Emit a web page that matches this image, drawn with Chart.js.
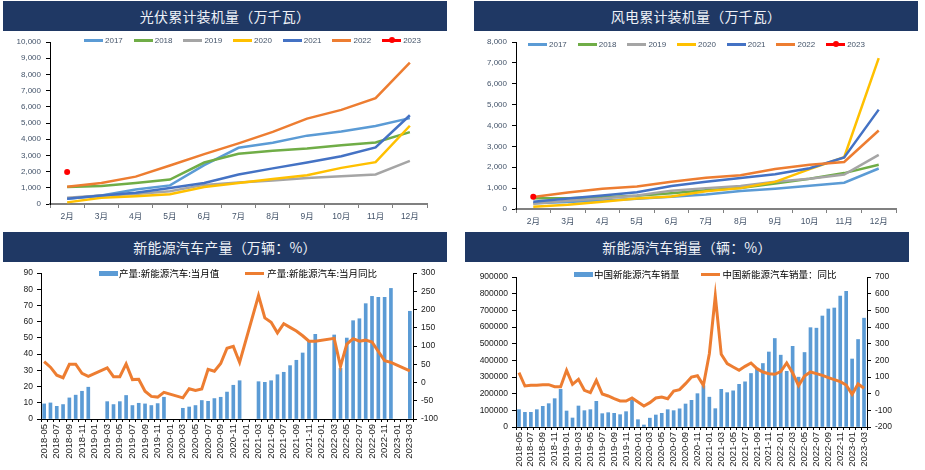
<!DOCTYPE html>
<html><head><meta charset="utf-8">
<script src="https://cdn.jsdelivr.net/npm/chart.js@4.4.1/dist/chart.umd.min.js"></script>
<style>
body{margin:0;width:925px;height:470px;background:#fff;position:relative;overflow:hidden;font-family:'Liberation Sans','Noto Sans CJK SC',sans-serif}
.banner{position:absolute;height:30px;width:444px;background:#1F3864;color:#EEF1F7;font-family:'Noto Sans CJK SC',sans-serif;font-size:14px;display:flex;align-items:center;justify-content:center;letter-spacing:0.2px}
canvas{position:absolute}
.leg{position:absolute;display:flex;align-items:center;white-space:nowrap}
.item{display:flex;align-items:center}
.sw{position:relative;height:2.5px}
.dot{position:absolute;left:6.5px;top:-2px;width:6px;height:6px;border-radius:50%;background:#FF0000}
</style></head>
<body>
<div class="banner" style="left:3px;top:1px">光伏累计装机量（万千瓦）</div>
<div class="banner" style="left:474px;top:1px">风电累计装机量（万千瓦）</div>
<div class="banner" style="left:3px;top:232px">新能源汽车产量（万辆：%）</div>
<div class="banner" style="left:465px;top:232px">新能源汽车销量（辆：%）</div>

<canvas id="c1" width="460" height="199" style="left:0;top:31px"></canvas>
<canvas id="c2" width="462" height="199" style="left:463px;top:31px"></canvas>
<canvas id="c3" width="460" height="208" style="left:0;top:262px"></canvas>
<canvas id="c4" width="462" height="208" style="left:463px;top:262px"></canvas>

<div class="leg" id="l1" style="left:84px;top:36px"></div>
<div class="leg" id="l2" style="left:528px;top:40px"></div>
<div class="leg" id="l3" style="left:99px;top:266px"></div>
<div class="leg" id="l4" style="left:574px;top:267px"></div>

<script>
// ---------- data ----------
const months = ['2月','3月','4月','5月','6月','7月','8月','9月','10月','11月','12月'];
const years = ['2017','2018','2019','2020','2021','2022','2023'];

const pv2017 = [330, 520, 900, 1150, 2400, 3470, 3780, 4220, 4470, 4820, 5300];
const pv2018 = [1050, 1110, 1300, 1510, 2560, 3100, 3290, 3430, 3620, 3800, 4440];
const pv2019 = [380, 520, 620, 790, 1180, 1320, 1450, 1610, 1710, 1820, 2660];
const pv2020 = [100, 390, 480, 600, 1050, 1300, 1540, 1780, 2230, 2580, 4830];
const pv2021 = [320, 530, 690, 990, 1300, 1820, 2200, 2560, 2950, 3490, 5480];
const pv2022 = [1070, 1290, 1690, 2380, 3080, 3740, 4450, 5270, 5810, 6530, 8720];
const pv2023 = [1980, null, null, null, null, null, null, null, null, null, null];

const wind2017 = [280, 340, 410, 490, 590, 700, 860, 970, 1110, 1260, 1940];
const wind2018 = [520, 510, 560, 640, 760, 900, 1010, 1220, 1450, 1720, 2120];
const wind2019 = [250, 390, 500, 650, 880, 1000, 1100, 1300, 1450, 1650, 2590];
const wind2020 = [110, 200, 350, 500, 600, 850, 1000, 1300, 1910, 2480, 7230];
const wind2021 = [350, 500, 650, 800, 1100, 1300, 1480, 1660, 1950, 2470, 4760];
const wind2022 = [570, 790, 970, 1080, 1300, 1500, 1620, 1920, 2120, 2250, 3760];
const wind2023 = [590, null, null, null, null, null, null, null, null, null, null];

const monthLabels = ['2018-05','2018-06','2018-07','2018-08','2018-09','2018-10','2018-11','2018-12',
 '2019-01','2019-02','2019-03','2019-04','2019-05','2019-06','2019-07','2019-08','2019-09','2019-10','2019-11','2019-12',
 '2020-01','2020-02','2020-03','2020-04','2020-05','2020-06','2020-07','2020-08','2020-09','2020-10','2020-11','2020-12',
 '2021-01','2021-02','2021-03','2021-04','2021-05','2021-06','2021-07','2021-08','2021-09','2021-10','2021-11','2021-12',
 '2022-01','2022-02','2022-03','2022-04','2022-05','2022-06','2022-07','2022-08','2022-09','2022-10','2022-11','2022-12',
 '2023-01','2023-02','2023-03'];

const prodValue = [9.3, 9.9, 7.8, 8.9, 13.0, 14.7, 17.1, 19.6,
 null, null, 10.7, 8.9, 10.7, 14.5, 8.3, 9.7, 9.3, 8.3, 9.5, 13.4,
 null, null, 6.6, 7.4, 8.3, 11.4, 10.9, 12.6, 13.4, 16.6, 20.8, 23.6,
 null, null, 23.0, 22.6, 23.6, 27.3, 28.8, 32.9, 36.2, 40.7, 48.3, 52.2,
 null, null, 51.8, 31.2, 49.9, 60.6, 61.8, 71.1, 75.6, 75.0, 75.0, 80.5,
 null, null, 66.4];
const prodYoy = [57, 42, 20, 13, 50, 50, 25, 17,
 null, null, 40, 16, 16, 51, 8, 9, -24, -38, -40, -27,
 null, null, -42, -17, -22, -18, 36, 31, 52, 94, 99, 55,
 null, null, 238, 177, 165, 136, 161, 151, 141, 128, 113, 113,
 null, null, 121, 44, 105, 120, 113, 116, 111, 85, 60, 55,
 null, null, 32];

const salesValue = [104000, 88000, 88000, 104000, 124000, 140000, 170000, 226000,
 96000, 54000, 126000, 98000, 104000, 154000, 80000, 86000, 82000, 74000, 92000, 160000,
 44000, 12000, 53000, 72000, 82000, 104000, 98000, 109000, 138000, 160000, 200000, 248000,
 179000, 110000, 226000, 206000, 217000, 256000, 271000, 321000, 353000, 381000, 450000, 531000,
 431000, 334000, 484000, 299000, 447000, 596000, 593000, 666000, 708000, 714000, 786000, 814000,
 408000, 525000, 653000];
const salesYoy = [126, 46, 50, 50, 54, 54, 42, 42,
 140, 56, 86, 20, 6, 80, -2, -14, -30, -44, -44, -26,
 -50, -74, -54, -26, -20, -30, 16, 24, 60, 100, 108, 50,
 240, 586, 236, 180, 160, 140, 164, 184, 150, 130, 120, 116,
 132, 184, 124, 48, 106, 130, 120, 110, 96, 84, 72, 52,
 -4, 58, 32];

// ---------- styles ----------
const yearColors = ['#5B9BD5','#70AD47','#A5A5A5','#FFC000','#4472C4','#ED7D31','#FF0000'];
const FONT = "'Liberation Sans','Noto Sans CJK SC',sans-serif";
const topText = '#44546A';

function yearDatasets(series){
  return series.map((d,i)=>({
    label: years[i], data: d, borderColor: yearColors[i], backgroundColor: yearColors[i],
    borderWidth: 2.5, tension: 0, order: 6 - i,
    pointRadius: i === 6 ? 3 : 0, pointBorderWidth: 0, pointHoverRadius: 0
  }));
}

function topChart(id, series, maxV, yW, xH, padTop, padRight){
  return new Chart(document.getElementById(id), {
    type: 'line',
    data: { labels: months, datasets: yearDatasets(series) },
    options: {
      responsive: false, animation: false, devicePixelRatio: 1,
      layout: { padding: { top: padTop, right: padRight, left: 0, bottom: 0 } },
      plugins: { legend: { display: false }, tooltip: { enabled: false } },
      scales: {
        x: { offset: true,
          grid: { offset: true, drawOnChartArea: false, drawTicks: true, tickLength: 4, color: '#808080', lineWidth: 1 },
          border: { color: '#808080', width: 2 },
          ticks: { font: { family: FONT, size: 8.5 }, color: topText, padding: 4, maxRotation: 0, autoSkip: false },
          afterFit: s => { s.height = xH; } },
        y: { min: 0, max: maxV,
          grid: { drawOnChartArea: false, drawTicks: true, tickLength: 4, color: '#000' },
          border: { color: '#000', width: 1 },
          ticks: { stepSize: 1000, font: { family: FONT, size: 8 }, color: topText, padding: 5 },
          afterFit: s => { s.width = yW; } }
      }
    }
  });
}

topChart('c1', [pv2017, pv2018, pv2019, pv2020, pv2021, pv2022, pv2023], 10000, 50, 26, 11, 33);
topChart('c2', [wind2017, wind2018, wind2019, wind2020, wind2021, wind2022, wind2023], 8000, 53, 21, 11, 29);

function topLegend(id){
  const el = document.getElementById(id);
  years.forEach((y,i)=>{
    const it = document.createElement('div'); it.className='item'; it.style.width='49.7px';
    const sw = document.createElement('div'); sw.className='sw'; sw.style.width='19px'; sw.style.background=yearColors[i];
    if(i===6){ const d=document.createElement('div'); d.className='dot'; sw.appendChild(d); }
    const t = document.createElement('span'); t.textContent=y; t.style.cssText='font-size:8px;color:'+topText+';margin-left:2px';
    it.appendChild(sw); it.appendChild(t); el.appendChild(it);
  });
}
topLegend('l1'); topLegend('l2');

function bottomChart(id, cfg){
  return new Chart(document.getElementById(id), {
    type: 'bar',
    data: { labels: monthLabels, datasets: [
      { type: 'line', label: cfg.lineLabel, data: cfg.line, yAxisID: 'y1', borderColor: '#ED7D31', backgroundColor: '#ED7D31',
        borderWidth: 3, pointRadius: 0, tension: 0, spanGaps: true, order: 0 },
      { type: 'bar', label: cfg.barLabel, data: cfg.bar, yAxisID: 'y', backgroundColor: '#5B9BD5', barThickness: 3, order: 1 }
    ]},
    options: {
      responsive: false, animation: false, devicePixelRatio: 1,
      layout: { padding: { top: cfg.padTop, right: 0, left: 0, bottom: 0 } },
      plugins: { legend: { display: false }, tooltip: { enabled: false } },
      scales: {
        x: { offset: true,
          grid: { offset: true, drawOnChartArea: false, drawTicks: true, tickLength: 3, color: '#000' },
          border: { color: '#000', width: 1 },
          ticks: { autoSkip: false, minRotation: 90, maxRotation: 90, padding: 2,
            font: { family: FONT, size: 9.5 }, color: '#1a1a1a',
            callback: function(v, i){ return i % 2 === 0 ? this.getLabelForValue(v) : ''; } },
          afterFit: s => { s.height = cfg.xH; } },
        y: { position: 'left', min: cfg.yMin, max: cfg.yMax,
          grid: { drawOnChartArea: false, tickLength: 4, color: '#000' },
          border: { color: '#000', width: 1 },
          ticks: { stepSize: cfg.yStep, font: { family: FONT, size: 8.5 }, color: '#1a1a1a', padding: 4,
            callback: v => String(v) },
          afterFit: s => { s.width = cfg.yW; } },
        y1: { position: 'right', min: cfg.y1Min, max: cfg.y1Max,
          grid: { drawOnChartArea: false, tickLength: 4, color: '#000' },
          border: { color: '#000', width: 1 },
          ticks: { stepSize: cfg.y1Step, font: { family: FONT, size: 8.5 }, color: '#1a1a1a', padding: 4,
            callback: v => String(v) },
          afterFit: s => { s.width = cfg.y1W; } }
      }
    }
  });
}

const c3 = bottomChart('c3', { bar: prodValue, line: prodYoy, barLabel: '产量:新能源汽车:当月值', lineLabel: '产量:新能源汽车:当月同比',
  yMin: 0, yMax: 90, yStep: 10, y1Min: -100, y1Max: 300, y1Step: 50, yW: 41, y1W: 47, xH: 51, padTop: 11 });
const c4 = bottomChart('c4', { bar: salesValue, line: salesYoy, barLabel: '中国新能源汽车销量', lineLabel: '中国新能源汽车销量：同比',
  yMin: 0, yMax: 900000, yStep: 100000, y1Min: -200, y1Max: 700, y1Step: 100, yW: 53, y1W: 58, xH: 43, padTop: 15 });

function bottomLegend(id, chart, gap){
  const el = document.getElementById(id);
  const ds = chart.data.datasets;
  [ds[1], ds[0]].forEach((d, k)=>{
    const it = document.createElement('div'); it.className='item';
    if(k===1) it.style.marginLeft = gap+'px';
    const sw = document.createElement('div');
    sw.style.cssText = 'width:19px;height:'+(k===0?'5px':'3px')+';background:'+(k===0?'#5B9BD5':'#ED7D31');
    const t = document.createElement('span'); t.textContent = d.label;
    t.style.cssText = 'font-family:"Noto Sans CJK SC",sans-serif;font-size:9.5px;color:#000;margin-left:'+(k===0?'1px':'3px');
    it.appendChild(sw); it.appendChild(t); el.appendChild(it);
  });
}
bottomLegend('l3', c3, 26);
bottomLegend('l4', c4, 21);
</script>
</body></html>
